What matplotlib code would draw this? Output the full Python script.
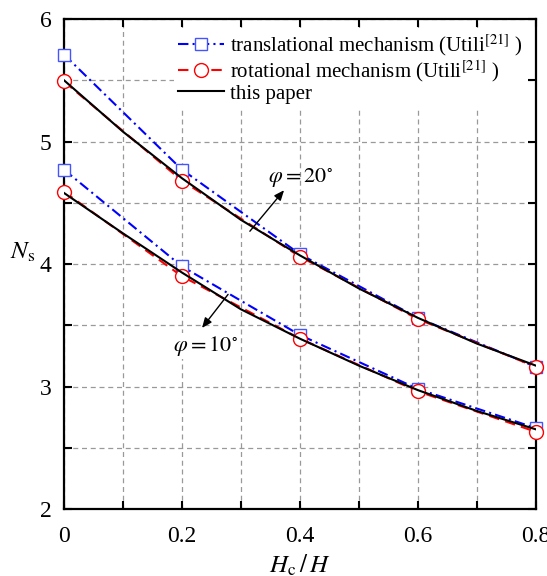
import numpy as np
import matplotlib
matplotlib.use("Agg")
import matplotlib.pyplot as plt
from matplotlib.ticker import MultipleLocator, FuncFormatter

plt.rcParams["font.family"] = ["Liberation Serif", "DejaVu Serif"]
plt.rcParams["mathtext.fontset"] = "stix"

# Utili [21] results, points at Hc/H = 0, 0.2, ..., 0.8
hc_pts = [0.0, 0.2, 0.4, 0.6, 0.8]
trans_20 = [5.71, 4.77, 4.08, 3.56, 3.16]
rot_20 = [5.49, 4.68, 4.06, 3.55, 3.16]
trans_10 = [4.77, 3.98, 3.42, 2.98, 2.66]
rot_10 = [4.59, 3.90, 3.39, 2.96, 2.63]

# this paper (read every 0.1)
hc_fine = [0.0, 0.1, 0.2, 0.3, 0.4, 0.5, 0.6, 0.7, 0.8]
paper_20 = [5.50, 5.08, 4.70, 4.36, 4.07, 3.80, 3.56, 3.35, 3.17]
paper_10 = [4.58, 4.25, 3.93, 3.63, 3.39, 3.17, 2.97, 2.80, 2.65]

fig = plt.figure(figsize=(5.47, 5.76), dpi=100)
ax = fig.add_axes([0.117, 0.1163, 0.8629, 0.8507])

blue = "#0000ff"
red = "#ff0000"

for i, (tr, ro, pa) in enumerate([(trans_20, rot_20, paper_20), (trans_10, rot_10, paper_10)]):
    ax.plot(hc_pts, tr, color=blue, ls=(0, (5, 2, 1, 2)), lw=1.5,
            marker="s", ms=9, mfc="white", mec="#4455ff", mew=1.0, clip_on=False,
            label="translational mechanism (Utili$^{[21]}$ )" if i == 0 else None, zorder=3)
    ax.plot(hc_pts, ro, color=red, ls=(0, (5, 3)), lw=1.5,
            marker="o", ms=10, mfc="white", mec=red, mew=1.0, clip_on=False,
            label="rotational mechanism (Utili$^{[21]}$ )" if i == 0 else None, zorder=3)
    ax.plot(hc_fine, pa, color="black", lw=1.5,
            label="this paper" if i == 0 else None, zorder=4)

ax.set_xlim(0, 0.8)
ax.set_ylim(2, 6)
ax.xaxis.set_major_locator(MultipleLocator(0.2))
ax.xaxis.set_minor_locator(MultipleLocator(0.1))
ax.yaxis.set_major_locator(MultipleLocator(1))
ax.yaxis.set_minor_locator(MultipleLocator(0.5))
ax.xaxis.set_major_formatter(FuncFormatter(lambda v, p: "0" if v == 0 else f"{v:.1f}"))

ax.grid(True, which="both", ls=(0, (4, 3)), color="#999999", lw=0.9)
ax.set_axisbelow(True)
ax.tick_params(which="both", direction="in", top=True, right=True, labelsize=17,
               length=6, width=1.5)
ax.tick_params(axis="x", pad=12)
ax.tick_params(axis="y", pad=9)
for s in ax.spines.values():
    s.set_linewidth(1.6)

ax.set_xlabel("$H_{\\rm c}\\,/\\,H$", fontsize=18, labelpad=4)
ax.set_ylabel("$N_{\\rm s}$", fontsize=18, rotation=0, labelpad=12)

ax.annotate("", xy=(0.376, 4.62), xytext=(0.312, 4.25),
            arrowprops=dict(arrowstyle="-|>,head_length=0.6,head_width=0.25", color="black", lw=1.0))
ax.text(0.40, 4.70, "$\\varphi=20^{\\circ}$", fontsize=16, ha="center", va="center")
ax.annotate("", xy=(0.231, 3.46), xytext=(0.281, 3.77),
            arrowprops=dict(arrowstyle="-|>,head_length=0.6,head_width=0.25", color="black", lw=1.0))
ax.text(0.24, 3.33, "$\\varphi=10^{\\circ}$", fontsize=16, ha="center", va="center",
        bbox=dict(facecolor="white", edgecolor="none", pad=1))

leg = ax.legend(loc="upper right", fontsize=15, frameon=True, framealpha=1, edgecolor="none",
                handlelength=2.2, handletextpad=0.3, borderpad=0.2, labelspacing=0.0,
                borderaxespad=0.45)
leg.get_frame().set_linewidth(0)

fig.savefig("out.png", dpi=100)
